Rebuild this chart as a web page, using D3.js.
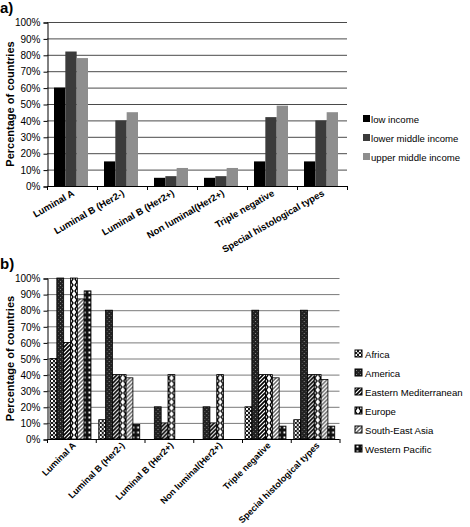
<!DOCTYPE html>
<html><head><meta charset="utf-8">
<script src="https://cdn.jsdelivr.net/npm/d3@7"></script>
<style>
html,body{margin:0;padding:0;background:#fff;}
svg{display:block;font-family:"Liberation Sans",Arial,sans-serif;}
</style></head>
<body>
<svg id="c" width="470" height="527"></svg>
<script>
const categories = ["Luminal A","Luminal B (Her2-)","Luminal B (Her2+)","Non luminal(Her2+)","Triple negative","Special histological types"];
const yTicks = [0,10,20,30,40,50,60,70,80,90,100];

// chart a: income groups
const incomeSeries = ["low income","lower middle income","upper middle income"];
const lowIncome = [60,15,5,5,15,15];
const lowerMiddleIncome = [82,40,6,6,42,40];
const upperMiddleIncome = [78,45,11,11,49,45];
const incomeColors = ["#000000","#3b3b3b","#8e8e8e"];

// chart b: regions
const regionSeries = ["Africa","America","Eastern Mediterranean","Europe","South-East Asia","Western Pacific"];
const africa = [50,12,0,0,20,12];
const america = [100,80,20,20,80,80];
const easternMed = [60,40,10,10,40,40];
const europe = [100,40,40,40,40,40];
const seAsia = [87,38,0,0,38,37];
const westernPacific = [92,9,0,0,8,8];

const svg = d3.select("#c");
const defs = svg.append("defs");

function pat(id, w, h, bg, draw){
  const p = defs.append("pattern").attr("id",id).attr("patternUnits","userSpaceOnUse").attr("width",w).attr("height",h);
  p.append("rect").attr("width",w).attr("height",h).attr("fill",bg);
  draw(p);
}
pat("pAfrica",4,4,"#1a1a1a",p=>{
  p.append("rect").attr("x",0).attr("y",0).attr("width",2).attr("height",2).attr("fill","#fff");
  p.append("rect").attr("x",2).attr("y",2).attr("width",2).attr("height",2).attr("fill","#bbb");
});
pat("pAmerica",4,4,"#222",p=>{
  p.append("rect").attr("x",1).attr("y",1).attr("width",1).attr("height",1).attr("fill","#888");
  p.append("rect").attr("x",3).attr("y",3).attr("width",1).attr("height",1).attr("fill","#555");
});
pat("pEMed",4,4,"#fff",p=>{
  p.append("path").attr("d","M-1,1 L1,-1 M0,4 L4,0 M3,5 L5,3").attr("stroke","#000").attr("stroke-width",1.6);
});
pat("pEurope",6,6,"#fff",p=>{
  p.append("path").attr("d","M0,0 L2,3 L0,6 M6,0 L4,3 L6,6").attr("stroke","#000").attr("stroke-width",1.4).attr("fill","none");
});
pat("pSEAsia",4,4,"#fff",p=>{
  p.append("path").attr("d","M-1,1 L1,-1 M0,4 L4,0 M3,5 L5,3").attr("stroke","#666").attr("stroke-width",1.5);
});
pat("pWPac",5,5,"#111",p=>{
  p.append("rect").attr("x",1.5).attr("y",1.5).attr("width",2).attr("height",2).attr("fill","#fff");
});
const regionFills = ["url(#pAfrica)","url(#pAmerica)","url(#pEMed)","url(#pEurope)","url(#pSEAsia)","url(#pWPac)"];

function drawChart(cfg){
  const g = svg.append("g");
  const x0 = d3.scaleBand().domain(categories).range([cfg.left,cfg.right]).padding(0);
  const x1 = d3.scaleBand().domain(cfg.series).range(cfg.inner).padding(0);
  const y = d3.scaleLinear().domain([0,100]).range([cfg.bottom,cfg.top]);

  g.append("g").selectAll("line").data(yTicks.filter(t=>t>0)).join("line")
    .attr("x1",cfg.left).attr("x2",cfg.right)
    .attr("y1",d=>y(d)+0.5).attr("y2",d=>y(d)+0.5)
    .attr("stroke",cfg.grid).attr("stroke-width",1);

  const groups = g.append("g").selectAll("g").data(categories).join("g")
    .attr("transform",c=>`translate(${x0(c)},0)`);
  groups.selectAll("rect").data((c,i)=>cfg.series.map((s,j)=>({s,j,v:cfg.values[j][i]}))).join("rect")
    .filter(d=>d.v>0)
    .attr("x",d=>x1(d.s)).attr("width",x1.bandwidth())
    .attr("y",d=>y(d.v)).attr("height",d=>y(0)-y(d.v))
    .attr("fill",d=>cfg.fills[d.j])
    .attr("stroke",cfg.outline?"#000":"none").attr("stroke-width",cfg.outline?0.8:0);

  const ya = d3.axisLeft(y).tickValues(yTicks).tickFormat(d=>d+"%").tickSize(4).tickPadding(3);
  const yg = g.append("g").attr("transform",`translate(${cfg.left+0.5},0.5)`).call(ya);
  yg.select(".domain").attr("stroke","#000");
  yg.selectAll(".tick line").attr("stroke","#000");
  yg.selectAll("text").attr("font-size",10).attr("fill","#000");

  g.append("line").attr("x1",cfg.left).attr("x2",cfg.right).attr("y1",cfg.bottom+0.5).attr("y2",cfg.bottom+0.5).attr("stroke","#000");
  const bounds = categories.map(c=>x0(c)).concat([cfg.right]);
  g.append("g").selectAll("line").data(bounds).join("line")
    .attr("x1",d=>d+0.5).attr("x2",d=>d+0.5).attr("y1",cfg.bottom).attr("y2",cfg.bottom+4).attr("stroke","#000");

  g.append("g").selectAll("text").data(categories).join("text")
    .attr("transform",c=>`translate(${x0(c)+x0.bandwidth()/2+cfg.lx},${cfg.bottom+cfg.ly}) rotate(${cfg.rot})`)
    .attr("text-anchor","end").attr("font-size",cfg.labFont).attr("font-weight","bold").attr("fill","#000")
    .text(c=>c);

  g.append("text").attr("transform",`translate(${cfg.titleX},${(cfg.top+cfg.bottom)/2}) rotate(-90)`)
    .attr("text-anchor","middle").attr("font-size",11).attr("font-weight","bold").text("Percentage of countries");

  g.append("text").attr("x",0).attr("y",cfg.panelY).attr("font-size",15).attr("font-weight","bold").text(cfg.panel);

  const lg = g.append("g").selectAll("g").data(cfg.series).join("g")
    .attr("transform",(d,i)=>`translate(${cfg.legX},${cfg.legY+i*cfg.legStep})`);
  lg.append("rect").attr("x",0).attr("y",-4).attr("width",7).attr("height",7)
    .attr("fill",(d,i)=>cfg.fills[i]).attr("stroke",cfg.outline?"#000":"none").attr("stroke-width",cfg.outline?1:0);
  lg.append("text").attr("x",cfg.legText).attr("y",3.5).attr("font-size",cfg.legFont).attr("fill","#000").text(d=>d);
}

drawChart({
  series: incomeSeries, values:[lowIncome,lowerMiddleIncome,upperMiddleIncome], fills: incomeColors, outline:false,
  left:47, right:347, top:22, bottom:186, inner:[7,41], grid:"#4a4a4a",
  lx:3, ly:9, rot:-30, labFont:9.5, titleX:14, panel:"a)", panelY:13,
  legX:363, legY:119, legStep:19, legText:8, legFont:9.6
});
drawChart({
  series: regionSeries, values:[africa,america,easternMed,europe,seAsia,westernPacific], fills: regionFills, outline:true,
  left:47, right:339.5, top:278, bottom:439, inner:[3,44], grid:"#7a7a7a",
  lx:5, ly:7, rot:-45, labFont:9, titleX:14, panel:"b)", panelY:269,
  legX:355, legY:354, legStep:19, legText:10, legFont:9.6
});
</script>
</body></html>
